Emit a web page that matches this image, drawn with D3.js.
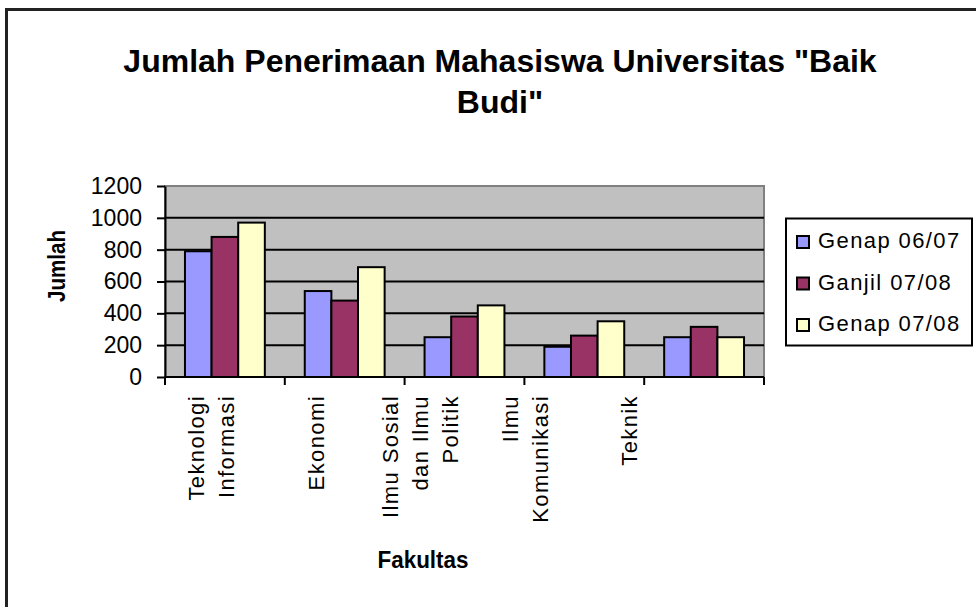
<!DOCTYPE html>
<html>
<head>
<meta charset="utf-8">
<script src="https://cdn.jsdelivr.net/npm/d3@7"></script>
<style>
  body { margin: 0; background: #fff; }
  svg { display: block; }
  text { font-family: "Liberation Sans", Arial, sans-serif; fill: #000; }
</style>
</head>
<body>
<svg width="976" height="607"></svg>
<script>
// data
var categories = ["Teknologi Informasi", "Ekonomi", "Ilmu Sosial dan Ilmu Politik", "Ilmu Komunikasi", "Teknik"];
var labelLines = [["Teknologi", "Informasi"], ["Ekonomi"], ["Ilmu Sosial", "dan Ilmu", "Politik"], ["Ilmu", "Komunikasi"], ["Teknik"]];
var seriesNames = ["Genap 06/07", "Ganjil 07/08", "Genap 07/08"];
var genap0607 = [790, 540, 250, 190, 250];
var ganjil0708 = [880, 480, 380, 260, 315];
var genap0708 = [970, 690, 450, 350, 250];
var yTicks = [0, 200, 400, 600, 800, 1000, 1200];
var colors = ["#9999FF", "#993366", "#FFFFCC"];

var allSeries = [genap0607, ganjil0708, genap0708];

var svg = d3.select('svg');

// chart frame (only top/left edge visible in the picture)
svg.append('rect')
    .attr('x', 6.5).attr('y', 9.5)
    .attr('width', 1000).attr('height', 700)
    .attr('fill', '#fff')
    .attr('stroke', '#222')
    .attr('stroke-width', 3);

var pLeft = 165, pRight = 764, pTop = 186, pBottom = 377;

var x0 = d3.scaleBand().domain(categories).range([pLeft, pRight]).paddingInner(0).paddingOuter(0);
var x1 = d3.scaleBand().domain(seriesNames).range([0, x0.bandwidth()]).paddingInner(0).paddingOuter(0.75);
var y = d3.scaleLinear().domain([0, 1200]).range([pBottom, pTop]);
// the category labels sit on a slightly narrower pitch than the bars
var xLabel = d3.scalePoint().domain(categories).range([211, 629]);

// plot area
svg.append('rect')
    .attr('x', pLeft).attr('y', pTop)
    .attr('width', pRight - pLeft).attr('height', pBottom - pTop)
    .attr('fill', '#C0C0C0')
    .attr('stroke', '#808080')
    .attr('stroke-width', 2);

// gridlines
svg.append('g').selectAll('line')
    .data(yTicks.filter(function(d){ return d > 0 && d < 1200; }))
    .enter().append('line')
    .attr('x1', pLeft).attr('x2', pRight)
    .attr('y1', function(d){ return y(d); })
    .attr('y2', function(d){ return y(d); })
    .attr('stroke', '#000')
    .attr('stroke-width', 2);

// bars
var groups = svg.append('g').selectAll('g')
    .data(categories)
    .enter().append('g')
    .attr('transform', function(d){ return 'translate(' + x0(d) + ',0)'; });

groups.selectAll('rect')
    .data(function(c, i){
        return seriesNames.map(function(s, j){ return {s: s, j: j, v: allSeries[j][i]}; });
    })
    .enter().append('rect')
    .attr('x', function(d){ return x1(d.s); })
    .attr('y', function(d){ return y(d.v); })
    .attr('width', x1.bandwidth())
    .attr('height', function(d){ return y(0) - y(d.v); })
    .attr('fill', function(d){ return colors[d.j]; })
    .attr('stroke', '#000')
    .attr('stroke-width', 2);

// y axis
var yAxis = svg.append('g')
    .attr('transform', 'translate(' + pLeft + ',0)')
    .call(d3.axisLeft(y).tickValues(yTicks).tickFormat(d3.format('d'))
        .tickSize(8).tickSizeOuter(0).tickPadding(15));
yAxis.select('.domain').attr('stroke', '#000').attr('stroke-width', 2);
yAxis.selectAll('.tick line').attr('stroke', '#000').attr('stroke-width', 2);
yAxis.selectAll('.tick text')
    .style('font-family', '"Liberation Sans", Arial, sans-serif')
    .style('font-size', '23px')
    .attr('fill', '#000');

// x axis line and ticks at category boundaries
svg.append('line')
    .attr('x1', pLeft).attr('x2', pRight)
    .attr('y1', pBottom).attr('y2', pBottom)
    .attr('stroke', '#000').attr('stroke-width', 2);
var bounds = categories.map(function(c){ return x0(c); }).concat([x0.range()[1]]);
svg.append('g').selectAll('line')
    .data(bounds)
    .enter().append('line')
    .attr('x1', function(d){ return d; })
    .attr('x2', function(d){ return d; })
    .attr('y1', pBottom).attr('y2', pBottom + 8)
    .attr('stroke', '#000').attr('stroke-width', 2);

// rotated category labels, wrapped like excel does it
var lineH = 30;
categories.forEach(function(c, i){
    var lines = labelLines[i];
    lines.forEach(function(t, k){
        var bx = xLabel(c) + (k - (lines.length - 1) / 2) * lineH + 8;
        svg.append('text')
            .text(t)
            .attr('transform', 'translate(' + bx + ',395)rotate(-90)')
            .attr('text-anchor', 'end')
            .style('font-size', '22px')
            .style('letter-spacing', '1.4px');
    });
});

// titles
svg.append('text')
    .text('Jumlah Penerimaan Mahasiswa Universitas "Baik')
    .attr('x', 500).attr('y', 72)
    .attr('text-anchor', 'middle')
    .style('font-size', '32px')
    .style('font-weight', 'bold');
svg.append('text')
    .text('Budi"')
    .attr('x', 500).attr('y', 113)
    .attr('text-anchor', 'middle')
    .style('font-size', '32px')
    .style('font-weight', 'bold');

svg.append('text')
    .text('Fakultas')
    .attr('x', 423).attr('y', 568)
    .attr('text-anchor', 'middle')
    .attr('textLength', 91)
    .attr('lengthAdjust', 'spacingAndGlyphs')
    .style('font-size', '24px')
    .style('font-weight', 'bold');

svg.append('text')
    .text('Jumlah')
    .attr('transform', 'translate(65,266)rotate(-90)')
    .attr('text-anchor', 'middle')
    .attr('textLength', 72)
    .attr('lengthAdjust', 'spacingAndGlyphs')
    .style('font-size', '23px')
    .style('font-weight', 'bold');

// legend
var legend = svg.append('g');
legend.append('rect')
    .attr('x', 786).attr('y', 218.5)
    .attr('width', 186).attr('height', 127)
    .attr('fill', '#fff')
    .attr('stroke', '#000')
    .attr('stroke-width', 2);

var items = legend.selectAll('g.item')
    .data(seriesNames)
    .enter().append('g')
    .attr('class', 'item')
    .attr('transform', function(d, i){ return 'translate(0,' + (248 + i * 41.5) + ')'; });
items.append('rect')
    .attr('x', 797).attr('y', -12)
    .attr('width', 12).attr('height', 12)
    .attr('fill', function(d, i){ return colors[i]; })
    .attr('stroke', '#000')
    .attr('stroke-width', 2);
items.append('text')
    .text(function(d){ return d; })
    .attr('x', 818).attr('y', 0)
    .style('font-size', '22px')
    .style('letter-spacing', '1.4px');
</script>
</body>
</html>
